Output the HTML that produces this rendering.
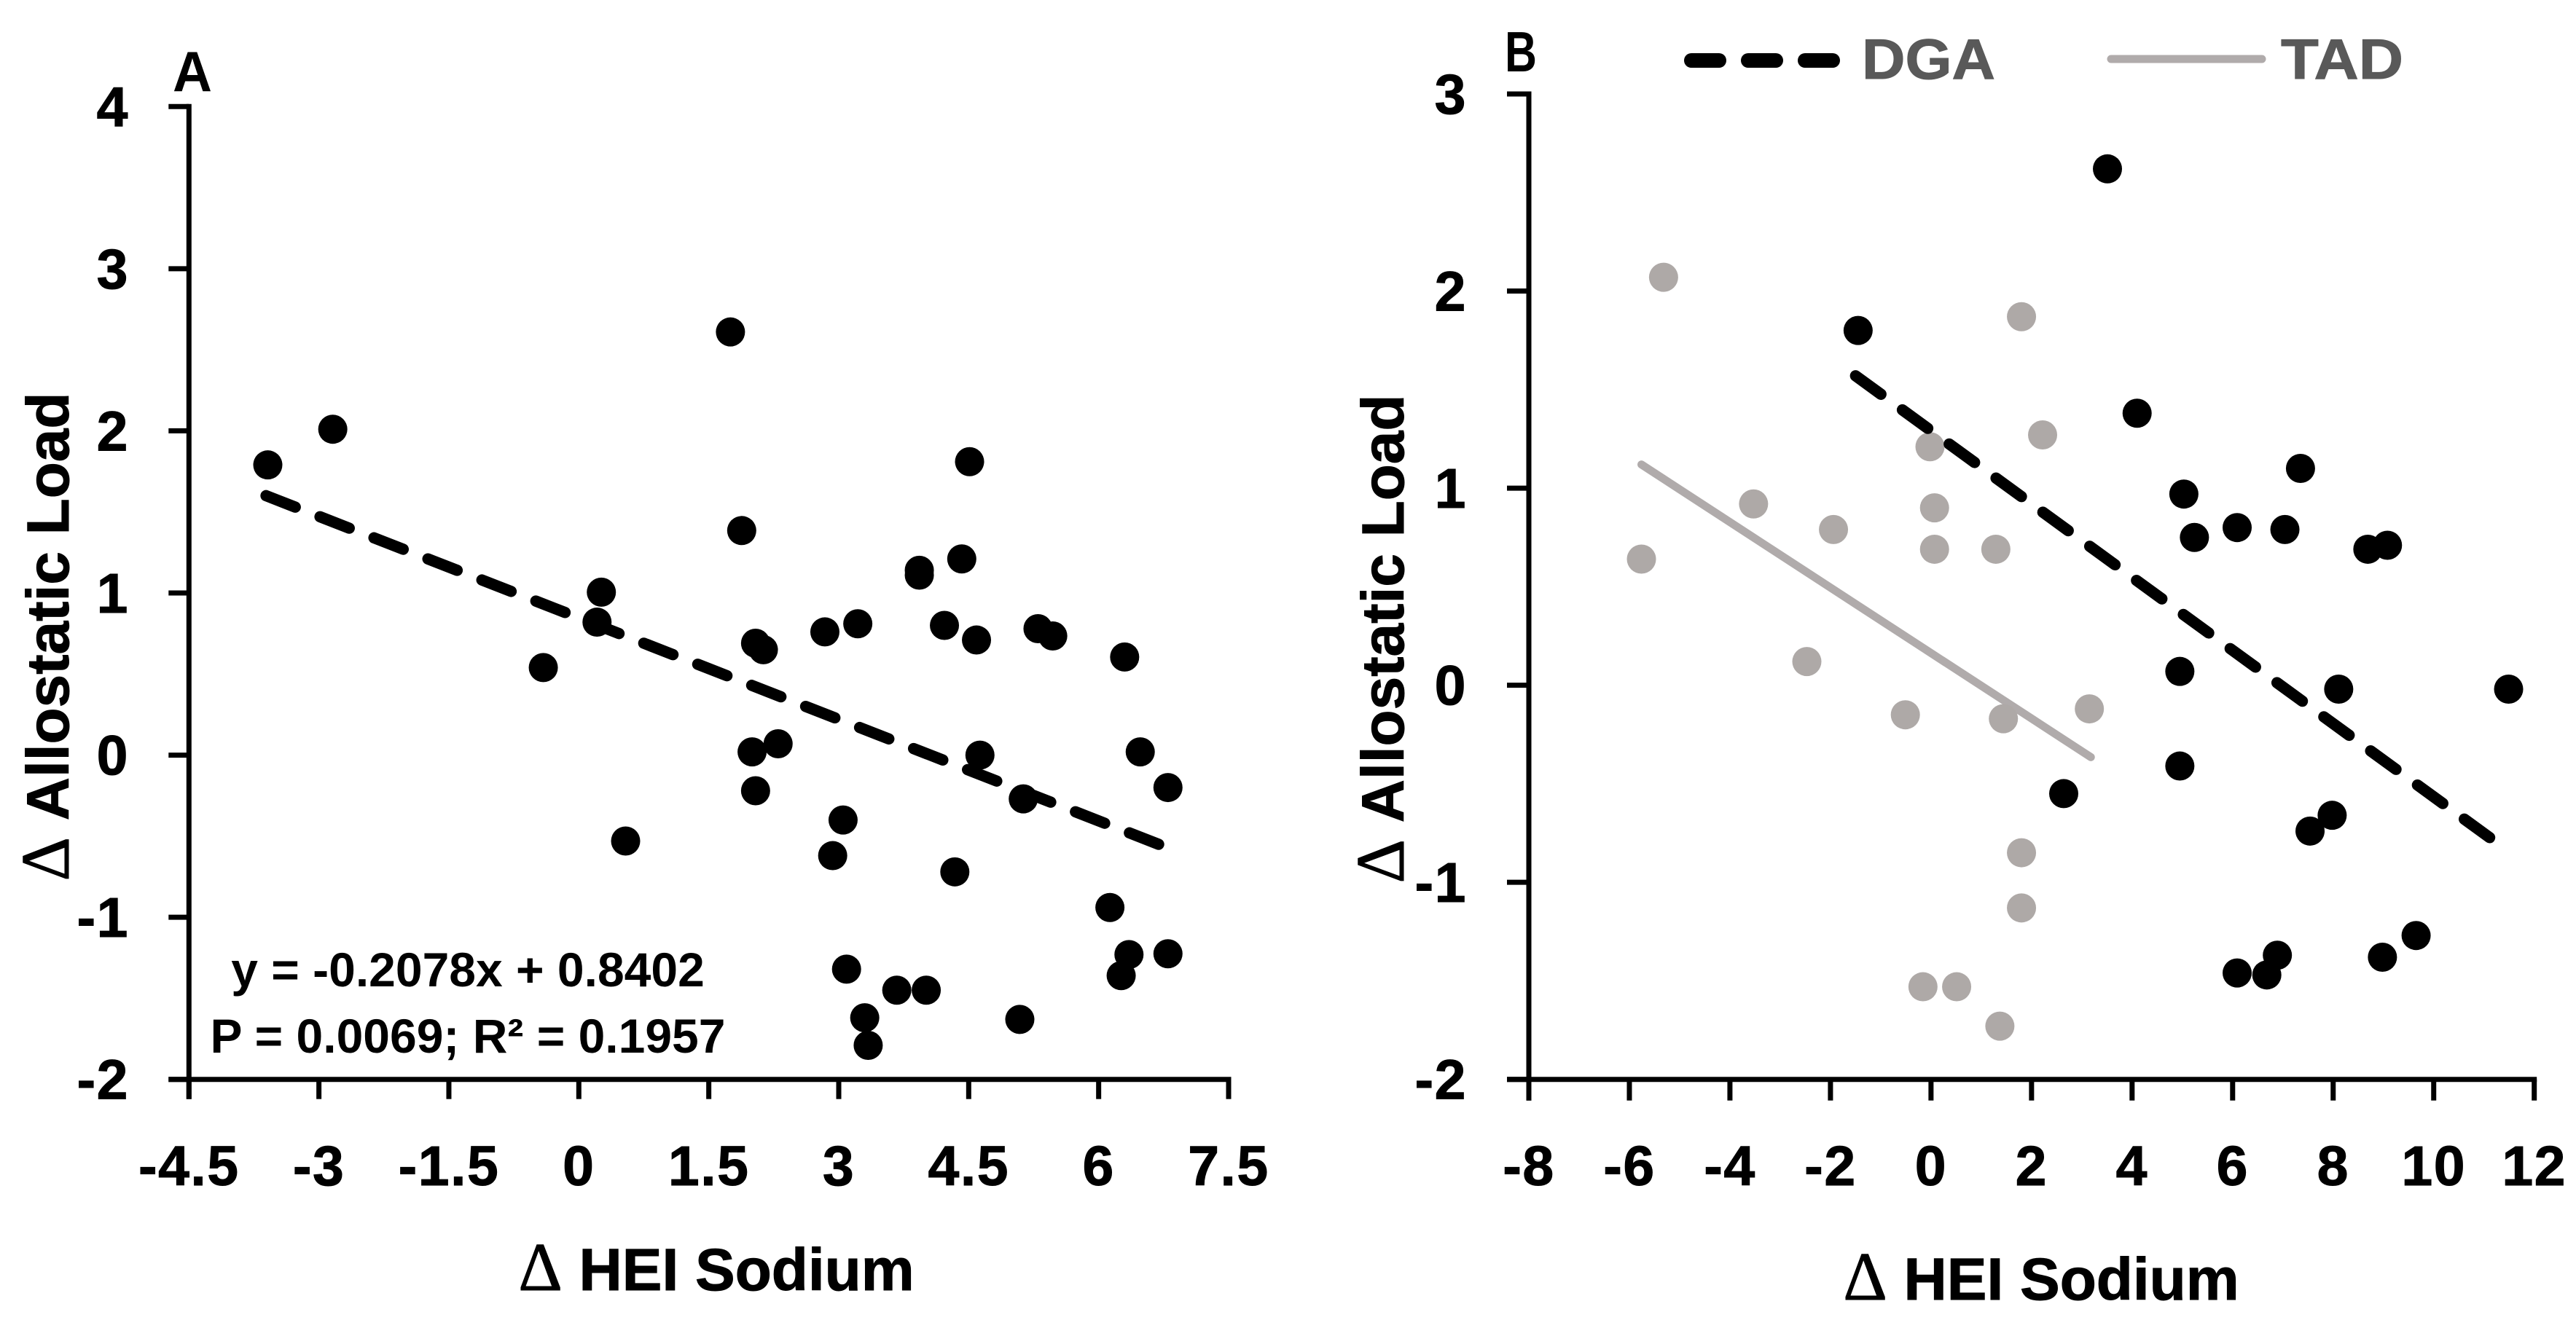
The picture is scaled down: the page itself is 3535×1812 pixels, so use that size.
<!DOCTYPE html>
<html lang="en">
<head>
<meta charset="utf-8">
<title>Change in Allostatic Load vs Change in HEI Sodium</title>
<style>
html,body{margin:0;padding:0;background:#fff;}
svg{display:block;}
text{font-family:"Liberation Sans",sans-serif;font-weight:700;fill:#000;}
.tick{font-size:77px;letter-spacing:1.5px;stroke:#000;stroke-width:1px;}
.title{font-size:82px;stroke:#000;stroke-width:1px;}
.delta{font-family:"Liberation Serif",serif;font-weight:400;font-size:94px;}
.eq{font-size:66px;}
.panel{font-size:78px;}
.legend{font-size:78px;fill:#595959;stroke:#595959;stroke-width:1px;}
</style>
</head>
<body>
<svg id="chart" xmlns="http://www.w3.org/2000/svg" width="3535" height="1812" viewBox="0 0 3535 1812">
  <rect width="3535" height="1812" fill="#ffffff"/>
  <g id="panel-a"></g>
  <g id="panel-b"></g>

  <text class="panel" x="237" y="125" textLength="54" lengthAdjust="spacingAndGlyphs">A</text>
  <text class="panel" x="2065" y="98" textLength="44" lengthAdjust="spacingAndGlyphs">B</text>

  <text class="title" text-anchor="middle" transform="translate(94 874) rotate(-90)"><tspan class="delta">Δ</tspan> Allostatic Load</text>
  <text class="title" text-anchor="middle" x="983" y="1771"><tspan class="delta">Δ</tspan> HEI Sodium</text>
  <text class="title" text-anchor="middle" transform="translate(1926 877) rotate(-90)"><tspan class="delta">Δ</tspan> Allostatic Load</text>
  <text class="title" text-anchor="middle" x="2801" y="1784"><tspan class="delta">Δ</tspan> HEI Sodium</text>

  <text class="eq" text-anchor="middle" x="642" y="1354">y = -0.2078x + 0.8402</text>
  <text class="eq" text-anchor="middle" x="642" y="1445">P = 0.0069; R² = 0.1957</text>

  <line x1="2321" y1="83" x2="2516" y2="83" stroke="#000" stroke-width="20" stroke-linecap="round" stroke-dasharray="38 40"/>
  <text class="legend" x="2555" y="108" textLength="183" lengthAdjust="spacingAndGlyphs">DGA</text>
  <line x1="2897" y1="81" x2="3104" y2="81" stroke="#b0abab" stroke-width="11" stroke-linecap="round"/>
  <text class="legend" x="3130" y="108" textLength="168" lengthAdjust="spacingAndGlyphs">TAD</text>
</svg>

<script>
// Panel A data
const panelAXTicks = ["-4.5", "-3", "-1.5", "0", "1.5", "3", "4.5", "6", "7.5"];
const panelAYTicks = ["4", "3", "2", "1", "0", "-1", "-2"];
const panelAXValues = [-3.59,-2.84,-0.41,0.26,0.21,0.54,1.75,1.88,2.04,2.13,2.0,2.30,2.04,2.84,3.22,3.05,2.93,3.09,3.30,3.34,3.67,4.01,3.93,3.93,4.22,4.42,4.51,4.59,4.63,4.34,5.13,5.09,5.30,5.47,6.13,6.30,6.26,6.35,6.48,6.80,6.80];
const panelAYValues = [1.79,2.01,0.54,1.005,0.82,-0.53,2.61,1.385,0.69,0.65,0.02,0.07,-0.22,0.76,0.81,-0.40,-0.62,-1.32,-1.62,-1.79,-1.45,-1.45,1.14,1.11,0.80,1.21,1.81,0.71,0.0,-0.72,-0.27,-1.63,0.78,0.735,-0.94,0.605,-1.36,-1.23,0.02,-0.20,-1.225];
const panelATrendX = [-3.61, 6.74];
const panelATrendY = [1.60, -0.56];

// Panel B data
const panelBXTicks = ["-8", "-6", "-4", "-2", "0", "2", "4", "6", "8", "10", "12"];
const panelBYTicks = ["3", "2", "1", "0", "-1", "-2"];
const dgaXValues = [3.51,-1.45,4.10,7.35,5.03,5.24,6.09,7.04,8.69,9.08,4.95,4.95,8.11,11.49,2.64,7.98,7.54,9.65,8.98,6.89,6.68,6.09];
const dgaYValues = [2.62,1.80,1.38,1.10,0.97,0.75,0.80,0.79,0.69,0.71,0.07,-0.41,-0.02,-0.02,-0.55,-0.66,-0.74,-1.27,-1.38,-1.37,-1.47,-1.46];
const tadXValues = [-5.32,1.80,2.22,-0.02,0.07,0.07,1.29,-3.53,-1.94,-5.76,-2.47,-0.51,1.44,3.15,1.80,1.80,-0.16,0.51,1.37];
const tadYValues = [2.07,1.87,1.27,1.21,0.90,0.69,0.69,0.92,0.79,0.64,0.12,-0.15,-0.17,-0.12,-0.85,-1.13,-1.53,-1.53,-1.73];
const dgaTrendX = [-1.50, 11.15];
const dgaTrendY = [1.57, -0.78];
const tadTrendX = [-5.76, 3.18];
const tadTrendY = [1.12, -0.365];

const NS = "http://www.w3.org/2000/svg";
const BLACK = "#000000";
const GREY = "#aea9a7";

function make(tag, attrs, parent) {
  const el = document.createElementNS(NS, tag);
  Object.keys(attrs).forEach(function (k) { el.setAttribute(k, attrs[k]); });
  parent.appendChild(el);
  return el;
}
function linear(d0, d1, r0, r1) {
  return function (v) { return r0 + (v - d0) * (r1 - r0) / (d1 - d0); };
}

function drawAxes(g, prefix, xScale, yScale, xTicks, yTicks, opt) {
  const xNums = xTicks.map(Number);
  const yNums = yTicks.map(Number);
  const x0 = xScale(xNums[0]);
  const y0 = yScale(yNums[yNums.length - 1]);
  const xEnd = xScale(xNums[xNums.length - 1]);
  const yEnd = yScale(yNums[0]);

  const yAxis = make("line", {x1: x0, y1: yEnd - 3.5, x2: x0, y2: y0 + opt.xTickLen, stroke: BLACK, "stroke-width": 7}, g);
  
  
  const xAxis = make("line", {x1: x0 - opt.yTickLen, y1: y0, x2: xEnd + 3.5, y2: y0, stroke: BLACK, "stroke-width": 7}, g);
  
  

  xTicks.forEach(function (label, i) {
    const x = xScale(xNums[i]);
    const tick = make("line", {x1: x, y1: y0, x2: x, y2: y0 + opt.xTickLen, stroke: BLACK, "stroke-width": 7}, g);
    
    
    const t = make("text", {x: x, y: 1627, "text-anchor": "middle", "class": "tick"}, g);
    
    
    t.textContent = label;
  });
  yTicks.forEach(function (label, i) {
    const y = yScale(yNums[i]);
    const tick = make("line", {x1: x0 - opt.yTickLen, y1: y, x2: x0, y2: y, stroke: BLACK, "stroke-width": 7}, g);
    
    
    const t = make("text", {x: opt.labelRight, y: y + 27, "text-anchor": "end", "class": "tick"}, g);
    
    
    t.textContent = label;
  });
}

function drawPoints(g, name, xs, ys, xScale, yScale, color) {
  xs.forEach(function (xv, i) {
    const c = make("circle", {cx: xScale(xv), cy: yScale(ys[i]), r: 20, fill: color}, g);
    
    
  });
}

function drawTrend(g, name, xs, ys, xScale, yScale, color, width, dash) {
  const l = make("line", {
    x1: xScale(xs[0]), y1: yScale(ys[0]),
    x2: xScale(xs[1]), y2: yScale(ys[1]),
    stroke: color, "stroke-width": width, "stroke-linecap": "round"
  }, g);
  if (dash) l.setAttribute("stroke-dasharray", dash);
  
  
}

// Panel A
const gA = document.getElementById("panel-a");
const xA = linear(-4.5, 7.5, 259.3, 1686);
const yA = linear(-2, 4, 1481.7, 146.3);
drawAxes(gA, "panel-a", xA, yA, panelAXTicks, panelAYTicks, {xTickLen: 27, yTickLen: 28, labelRight: 177});
drawTrend(gA, "panel-a-trend-line", panelATrendX, panelATrendY, xA, yA, BLACK, 15.5, "43 36.5");
drawPoints(gA, "panel-a-point", panelAXValues, panelAYValues, xA, yA, BLACK);

// Panel B
const gB = document.getElementById("panel-b");
const xB = linear(-8, 12, 2098, 3477.7);
const yB = linear(-2, 3, 1481.7, 129);
drawAxes(gB, "panel-b", xB, yB, panelBXTicks, panelBYTicks, {xTickLen: 29, yTickLen: 30, labelRight: 2013});
drawTrend(gB, "tad-trend-line", tadTrendX, tadTrendY, xB, yB, "#b0abab", 11, null);
drawPoints(gB, "tad-point", tadXValues, tadYValues, xB, yB, GREY);
drawPoints(gB, "dga-point", dgaXValues, dgaYValues, xB, yB, BLACK);
drawTrend(gB, "dga-trend-line", dgaTrendX, dgaTrendY, xB, yB, BLACK, 15.5, "43 36.5");
</script>
</body>
</html>
